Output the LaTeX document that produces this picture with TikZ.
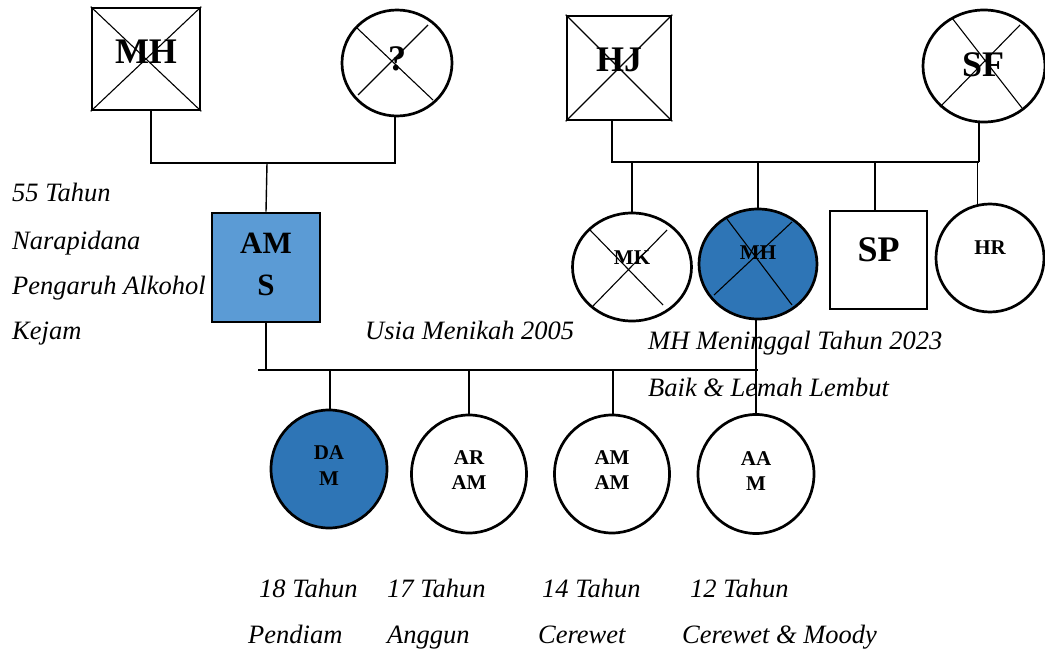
\documentclass[tikz,border=0pt]{standalone}
\usepackage{fontspec}
\setmainfont{Liberation Serif}
\usetikzlibrary{shapes.geometric}
\definecolor{lightblue}{HTML}{5B9BD5}
\definecolor{darkblue}{HTML}{2E75B6}
\begin{document}
\begin{tikzpicture}[x=1pt,y=-1pt,
  person/.style={draw=black,line width=2.7pt,inner sep=0pt},
  sqbox/.style={person,rectangle},
  circ/.style={person,ellipse},
  conn/.style={line width=1.4pt},
  crossl/.style={line width=1.1pt},
  bigtxt/.style={inner sep=0pt,font=\fontsize{36}{40}\selectfont\bfseries},
  midtxt/.style={inner sep=0pt,align=center,font=\fontsize{31}{42}\selectfont\bfseries},
  smalltxt/.style={inner sep=0pt,align=center,font=\fontsize{21}{25.5}\selectfont\bfseries},
  note/.style={inner sep=0pt,anchor=base west,font=\fontsize{26.5}{30}\selectfont\itshape}]
\useasboundingbox (0,0) rectangle (1045,650);

% ---------- generation 1 ----------
\node[sqbox,minimum width=108pt,minimum height=102pt] (mh1) at (146,59) {};
\draw[crossl] (mh1.north west) -- (mh1.south east) (mh1.south west) -- (mh1.north east);
\node[bigtxt] (mh1t) at (146,52) {MH};

\node[circ,minimum width=110pt,minimum height=106pt] (q) at (397,63) {};
\draw[crossl] ([shift={(-40,-35)}]q.center) -- ([shift={(36,37)}]q.center)
              ([shift={(-39,32)}]q.center) -- ([shift={(31,-38)}]q.center);
\node[bigtxt] (qt) at (397,59) {?};

\node[sqbox,minimum width=104pt,minimum height=104pt] (hj) at (619,68) {};
\draw[crossl] (hj.north west) -- (hj.south east) (hj.south west) -- (hj.north east);
\node[bigtxt] (hjt) at (619,60) {HJ};

\node[circ,minimum width=122pt,minimum height=112pt] (sf) at (984,66) {};
\draw[crossl] ([shift={(-32,-48)}]sf.center) -- ([shift={(38,42)}]sf.center)
              ([shift={(-44,41)}]sf.center) -- ([shift={(36,-41)}]sf.center);
\node[bigtxt] (sft) at (983,65) {SF};

% ---------- generation 2 ----------
\node[sqbox,fill=lightblue,minimum width=108pt,minimum height=109pt] (ams) at (266,267.5) {};
\node[midtxt] (amst) at (266,264) {AM\\S};

\node[circ,minimum width=119pt,minimum height=108pt] (mk) at (632,267) {};
\draw[crossl] ([shift={(-42,-37)}]mk.center) -- ([shift={(31,38)}]mk.center)
              ([shift={(-39,39)}]mk.center) -- ([shift={(35,-37)}]mk.center);
\node[smalltxt] (mkt) at (632,258) {MK};

\node[circ,fill=darkblue,minimum width=118pt,minimum height=110pt] (mhb) at (758,264) {};
\draw[crossl] ([shift={(-31,-45)}]mhb.center) -- ([shift={(34,41)}]mhb.center)
              ([shift={(-44,31)}]mhb.center) -- ([shift={(34,-42)}]mhb.center);
\node[smalltxt] (mhbt) at (758,253) {MH};

\node[sqbox,minimum width=97pt,minimum height=98pt] (sp) at (878.5,260) {};
\node[bigtxt] (spt) at (878.5,250) {SP};

\node[circ,minimum width=108pt,minimum height=108pt] (hr) at (990,258) {};
\node[smalltxt] (hrt) at (990,248) {HR};

% ---------- generation 3 ----------
\node[circ,fill=darkblue,minimum width=116pt,minimum height=118pt] (dam) at (329,469) {};
\node[smalltxt] (damt) at (329,465.5) {DA\\M};
\node[circ,minimum width=115pt,minimum height=118pt] (aram) at (469,474) {};
\node[smalltxt] (aramt) at (469,470) {AR\\AM};
\node[circ,minimum width=115pt,minimum height=118pt] (amam) at (612,474) {};
\node[smalltxt] (amamt) at (612,470) {AM\\AM};
\node[circ,minimum width=116pt,minimum height=119pt] (aam) at (756,474) {};
\node[smalltxt] (aamt) at (756,471) {AA\\M};

% ---------- connectors ----------
\coordinate (b1L) at (151,163);
\coordinate (b1M) at (267,163);
\coordinate (b1R) at (395,163);
\draw[conn] ([xshift=5pt]mh1.south) -- (b1L) -- (b1R) -- (q.south -| b1R);
\draw[conn] (b1M) -- (ams.north);

\coordinate (b2L) at (612,162);
\coordinate (b2R) at (979,162);
\draw[conn] ([xshift=-7pt]hj.south) -- (hj.south -| b2L) -- (b2L) -- (b2R);
\draw[conn] (sf.265) -- (sf.265 |- b2R);
\draw[conn] (mk.north |- b2L) -- (mk.north);
\draw[conn] (mhb.north |- b2L) -- (mhb.north);
\draw[conn] ([xshift=-3.5pt]sp.north |- b2L) -- ([xshift=-3.5pt]sp.north);
\draw[conn] ([xshift=-0.35pt]hr.103 |- b2L) -- ([xshift=-0.35pt]hr.103);

\coordinate (b3L) at (258,370);
\coordinate (b3R) at (758,370);
\draw[conn] (ams.south) -- (ams.south |- b3L);
\draw[conn] (b3L) -- (b3R);
\draw[conn] ([xshift=1pt]dam.north |- b3L) -- ([xshift=1pt]dam.north);
\draw[conn] (aram.north |- b3L) -- (aram.north);
\draw[conn] ([xshift=1pt]amam.north |- b3L) -- ([xshift=1pt]amam.north);
\draw[conn] ([xshift=-2pt]mhb.south) -- (aam.north);

% ---------- notes ----------
\node[note] (n1) at (12,202) {55 Tahun};
\node[note] (n2) at (12,249) {Narapidana};
\node[note] (n3) at (12,294) {Pengaruh Alkohol};
\node[note] (n4) at (12,339) {Kejam};
\node[note] (n5) at (365,339) {Usia Menikah 2005};
\node[note] (n6) at (648,349) {MH Meninggal Tahun 2023};
\node[note] (n7) at (648,396) {Baik \& Lemah Lembut};
\node[note] (c1a) at (259,597) {18 Tahun};
\node[note] (c2a) at (387,597) {17 Tahun};
\node[note] (c3a) at (542,597) {14 Tahun};
\node[note] (c4a) at (690,597) {12 Tahun};
\node[note] (c1b) at (248,643) {Pendiam};
\node[note] (c2b) at (387,643) {Anggun};
\node[note] (c3b) at (538,643) {Cerewet};
\node[note] (c4b) at (682,643) {Cerewet \& Moody};
\end{tikzpicture}
\end{document}
